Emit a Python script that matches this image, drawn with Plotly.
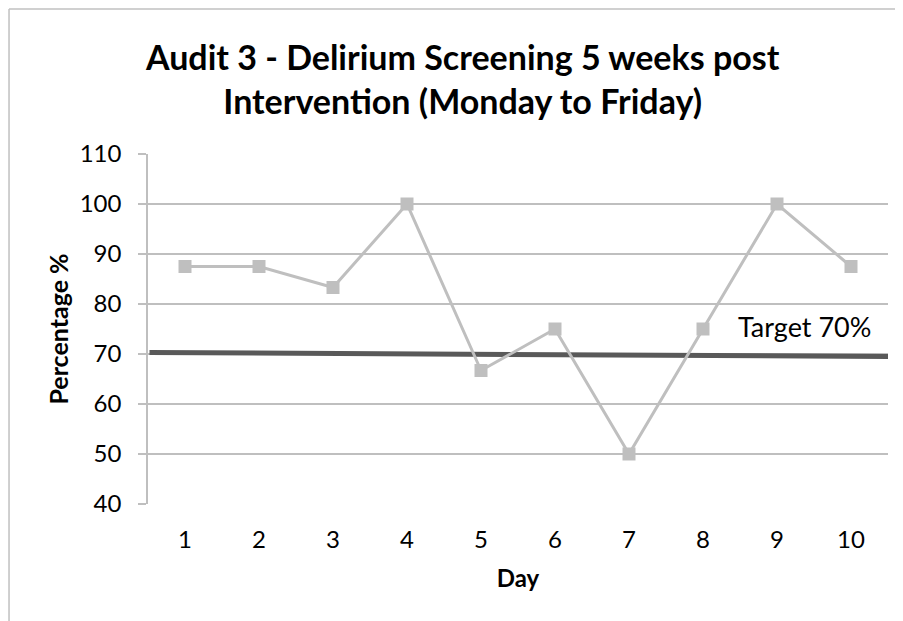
import plotly.graph_objects as go

days = [1, 2, 3, 4, 5, 6, 7, 8, 9, 10]
percentages = [87.5, 87.5, 83.3, 100, 66.7, 75, 50, 75, 100, 87.5]
target_x = [0.52, 10.5]
target_y = [70.3, 69.5]
y_ticks = [40, 50, 60, 70, 80, 90, 100, 110]

FONT = "Lato"

fig = go.Figure()
fig.add_trace(go.Scatter(
    x=target_x, y=target_y, mode="lines",
    line=dict(color="#595959", width=5), hoverinfo="skip", showlegend=False))
fig.add_trace(go.Scatter(
    x=days, y=percentages, mode="lines+markers",
    line=dict(color="#bfbfbf", width=3),
    marker=dict(symbol="square", size=13, color="#bfbfbf"),
    showlegend=False))

fig.add_annotation(x=10.3, y=75.5, text="Target 70%", showarrow=False,
                   xanchor="right", yanchor="middle",
                   font=dict(family=FONT, size=27, color="#000000"))

# outer chart border (top and left only visible)
fig.add_shape(type="line", xref="paper", yref="paper",
              x0=-0.1878, x1=1.05, y0=1.414, y1=1.414,
              line=dict(color="#c0c0c0", width=1.5))
fig.add_shape(type="line", xref="paper", yref="paper",
              x0=-0.1878, x1=-0.1878, y0=1.414, y1=-0.4,
              line=dict(color="#c0c0c0", width=1.5))

fig.update_layout(
    width=895, height=613,
    margin=dict(l=140, r=15, t=146, b=117),
    paper_bgcolor="white", plot_bgcolor="white",
    title=dict(text="<b>Audit 3 - Delirium Screening 5 weeks post<br>Intervention (Monday to Friday)</b>",
               x=0.508, xref="container", xanchor="center",
               y=0.899, yref="container", yanchor="top",
               font=dict(family=FONT, size=34, color="#000000")),
    xaxis=dict(range=[0.5, 10.5], tickvals=days, ticktext=[str(d) for d in days],
               showgrid=False, zeroline=False, showline=False, ticks="",
               ticklabelstandoff=19,
               tickfont=dict(family=FONT, size=24, color="#000000"),
               title=dict(text="<b>Day</b>", font=dict(family=FONT, size=24, color="#000000"),
                          standoff=18)),
    yaxis=dict(range=[40, 110], tickvals=y_ticks, showgrid=True, gridcolor="#bfbfbf",
               gridwidth=1.5, zeroline=False, showline=True, linecolor="#bfbfbf",
               linewidth=1.5, ticks="outside", ticklen=8, tickcolor="#bfbfbf",
               tickwidth=1.5, ticklabelstandoff=12,
               tickfont=dict(family=FONT, size=24, color="#000000"),
               title=dict(text="<b>Percentage %</b>", font=dict(family=FONT, size=25, color="#000000"),
                          standoff=4)),
)
fig.write_html("out.html")
